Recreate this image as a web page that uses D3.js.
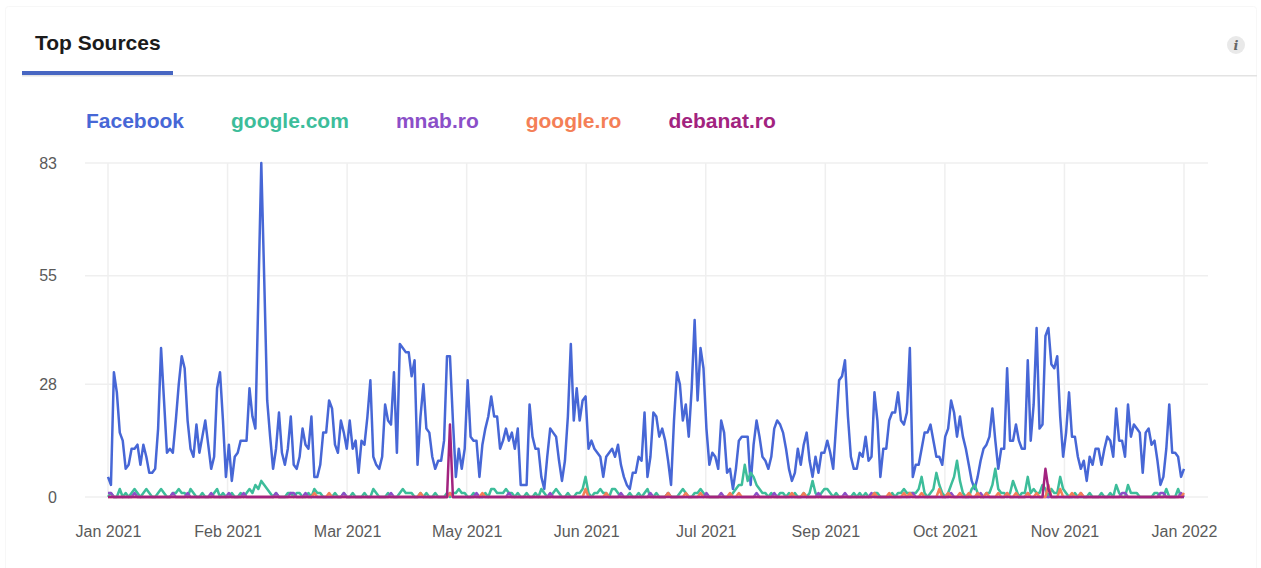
<!DOCTYPE html>
<html>
<head>
<meta charset="utf-8">
<script src="https://cdn.jsdelivr.net/npm/d3@7"></script>
<style>
  body { margin: 0; background: #fff; }
  svg { display: block; font-family: "Liberation Sans", Arial, sans-serif; }
</style>
</head>
<body>
<svg id="chart" width="1261" height="568"></svg>
<script>
const WIDTH = 1261;
const HEIGHT = 568;

// series, in drawing order
var seriesNames = ['Facebook', 'google.com', 'mnab.ro', 'google.ro', 'debanat.ro'];
var seriesColors = ['#4767d6', '#3dbd9a', '#8b4fc8', '#f47f57', '#a2237f'];

// daily values, Jan 1 2021 -> Jan 1 2022
var facebook = [
  5,3,31,26,16,14,7,8,12,12,13,8,13,10,6,6,7,17,37,24,11,12,11,19,28,35,32,19,12,10,18,11,15,19,13,7,10,27,31,19,5,13,4,10,11,
  14,14,14,27,20,17,50,83,54,24,15,7,12,21,11,8,12,20,8,7,10,17,13,12,20,5,5,8,16,16,24,22,13,11,19,16,12,19,12,14,6,14,13,20,29,10,
  8,7,10,23,19,18,31,11,38,37,36,36,30,34,8,20,28,17,16,10,7,9,9,14,35,35,19,5,12,7,12,29,15,14,14,5,13,17,20,25,20,20,12,14,17,14,
  16,12,17,3,3,3,23,15,12,12,5,2,10,17,16,15,9,4,9,20,38,19,27,19,24,25,12,14,12,11,10,5,10,11,12,10,13,8,5,3,2,6,6,10,9,21,
  5,10,21,20,15,17,14,9,3,19,31,28,19,23,15,27,44,24,37,32,17,8,11,10,7,19,16,6,7,2,7,14,15,15,15,3,13,19,15,10,9,7,10,17,19,18,
  16,12,7,4,6,12,8,13,16,9,5,10,6,11,11,14,11,7,18,29,30,34,20,10,7,7,11,10,15,9,10,26,19,5,12,12,19,21,21,26,19,18,21,37,5,
  8,8,12,16,16,18,14,10,10,8,15,17,24,21,15,20,15,12,8,4,2,5,9,12,13,15,22,14,7,12,12,32,14,14,18,14,12,12,34,14,23,42,17,18,40,42,
  33,32,35,20,10,16,26,15,15,10,7,9,4,10,8,12,12,8,12,15,14,10,22,14,14,10,23,15,18,17,16,6,16,17,13,14,9,3,5,12,23,11,11,10,5,7
];

var googleCom = [
  0,1,0,0,2,0,1,0,1,2,1,0,1,2,1,0,0,1,2,1,0,0,1,1,2,1,1,0,2,1,0,0,1,0,0,0,1,2,0,1,0,0,1,0,0,
  1,0,1,2,1,3,2,4,3,2,1,0,1,0,0,0,1,1,0,1,1,0,0,1,0,2,1,1,0,0,0,0,1,0,0,1,0,0,1,0,0,0,1,0,0,2,
  1,0,0,0,1,0,0,0,1,2,1,1,1,0,0,1,0,1,0,0,1,0,0,0,1,0,1,1,2,1,1,0,0,1,0,0,0,1,0,2,2,1,1,1,2,1,
  1,0,1,0,0,1,0,0,1,0,2,1,0,0,1,2,1,0,0,1,0,0,1,1,2,5,1,0,1,1,2,1,1,0,2,2,1,0,0,0,1,0,0,1,0,1,
  2,0,0,1,0,0,0,1,0,0,0,1,2,1,0,0,1,1,2,1,0,0,0,0,0,0,0,0,0,1,2,3,3,8,4,6,5,3,2,1,1,0,1,0,0,1,
  1,0,1,0,1,0,0,1,0,1,4,1,0,1,2,2,1,0,1,0,0,0,0,0,1,0,1,0,1,0,0,1,1,0,0,0,0,1,0,1,1,2,1,1,1,
  1,2,5,1,0,1,2,6,3,1,0,1,3,5,9,4,1,0,0,2,3,1,0,0,1,1,3,7,2,1,1,0,1,4,2,0,1,1,5,1,2,1,1,3,2,0,
  2,1,1,5,2,1,0,0,1,0,0,0,0,1,0,0,0,1,0,0,1,0,3,1,0,0,3,1,1,1,0,0,0,0,0,1,1,0,0,2,0,0,0,2,0,0
];

// near-zero series: [day index, value], every other day is 0
var mnabPoints = [[0,1],[1,1],[9,1],[22,1],[27,1],[35,1],[41,1],[46,1],[57,1],[62,1],[63,1],[67,1],[80,1],
  [96,1],[116,1],[125,1],[136,1],[150,1],[174,1],[184,1],[190,1],[203,1],[208,1],[220,1],[226,1],
  [241,1],[250,1],[259,1],[273,1],[286,1],[296,1],[305,1],[312,1],[330,1],[344,1],[345,1],[357,1],[358,1],[364,1]];
var googleRoPoints = [[70,1],[75,1],[106,1],[116,1],[127,1],[162,2],[169,1],[190,1],[196,1],[201,1],[211,1],[214,1],
  [232,1],[236,1],[260,1],[265,1],[270,1],[272,1],[276,1],[282,2],[285,1],[289,1],[292,1],[295,1],[298,1],
  [302,1],[305,1],[308,1],[312,1],[315,1],[319,3],[323,2],[327,1],[330,1],[365,1]];
var debanatPoints = [[116,18],[318,7],[319,2]];

var yTicks = [0, 28, 55, 83];
var xTickLabels = ['Jan 2021', 'Feb 2021', 'Mar 2021', 'May 2021', 'Jun 2021', 'Jul 2021',
                   'Sep 2021', 'Oct 2021', 'Nov 2021', 'Jan 2022'];

var startDate = new Date(Date.UTC(2021, 0, 1));
var endDate = new Date(Date.UTC(2022, 0, 1));

function fromPoints(points) {
  var m = new Map(points);
  return facebook.map(function(_, i) { return m.has(i) ? m.get(i) : 0; });
}

var seriesValues = [facebook, googleCom, fromPoints(mnabPoints), fromPoints(googleRoPoints), fromPoints(debanatPoints)];

var svg = d3.select('#chart');

// card frame (barely visible)
svg.append('rect')
  .attr('x', 5.5).attr('y', 6.5).attr('width', 1251).attr('height', 620).attr('rx', 3)
  .attr('fill', 'none').attr('stroke', '#f7f7f7');

// header
svg.append('text')
  .attr('x', 35).attr('y', 50)
  .attr('font-size', 21).attr('font-weight', 'bold').attr('fill', '#1b1b1b')
  .text('Top Sources');
svg.append('rect').attr('x', 22).attr('y', 75).attr('width', 1235).attr('height', 1.5).attr('fill', '#e3e3e3');
svg.append('rect').attr('x', 22).attr('y', 71).attr('width', 151).attr('height', 4).attr('fill', '#4766c2');

// info icon
svg.append('circle').attr('cx', 1236).attr('cy', 45).attr('r', 9).attr('fill', '#e9e9e9');
svg.append('text')
  .attr('x', 1236).attr('y', 50).attr('text-anchor', 'middle')
  .attr('font-size', 13).attr('font-style', 'italic').attr('font-weight', 'bold').attr('fill', '#666')
  .attr('font-family', '"DejaVu Serif", serif')
  .text('i');

// legend
var lx = 86;
seriesNames.forEach(function(name, i) {
  var t = svg.append('text')
    .attr('x', lx).attr('y', 128)
    .attr('font-size', 21).attr('font-weight', 'bold').attr('fill', seriesColors[i])
    .text(name);
  lx += t.node().getComputedTextLength() + 47;
});

// scales
var xScale = d3.scaleUtc().domain([startDate, endDate]).range([108, 1184]);
var yScale = d3.scaleLinear().domain([0, 83]).range([497, 163]);

var xTickDates = xTickLabels.map(function(_, i) {
  return new Date(+startDate + (endDate - startDate) * i / (xTickLabels.length - 1));
});

// grid
var grid = svg.append('g');
grid.selectAll('.hg').data(yTicks).enter().append('line')
  .attr('x1', 85).attr('x2', 1208)
  .attr('y1', function(d) { return yScale(d); }).attr('y2', function(d) { return yScale(d); })
  .attr('stroke', '#efefef').attr('stroke-width', 1.5);
grid.selectAll('.vg').data(xTickDates).enter().append('line')
  .attr('x1', function(d) { return xScale(d); }).attr('x2', function(d) { return xScale(d); })
  .attr('y1', 163).attr('y2', 497)
  .attr('stroke', '#efefef').attr('stroke-width', 1.5);

// axes
var xAxis = svg.append('g')
  .attr('transform', 'translate(0,497)')
  .call(d3.axisBottom(xScale).tickValues(xTickDates)
    .tickFormat(function(d, i) { return xTickLabels[i]; })
    .tickSize(0).tickPadding(29));
var yAxis = svg.append('g')
  .attr('transform', 'translate(108,0)')
  .call(d3.axisLeft(yScale).tickValues(yTicks).tickSize(0).tickPadding(51));
[xAxis, yAxis].forEach(function(a) {
  a.select('.domain').remove();
  a.selectAll('text')
    .attr('font-size', 16).attr('fill', '#5a5a5a')
    .attr('font-family', '"Liberation Sans", Arial, sans-serif');
});

// lines
var line = d3.line()
  .x(function(d, i) { return xScale(d3.utcDay.offset(startDate, i)); })
  .y(function(d) { return yScale(d); });

seriesValues.forEach(function(vals, i) {
  svg.append('path')
    .datum(vals)
    .attr('d', line)
    .attr('fill', 'none')
    .attr('stroke', seriesColors[i])
    .attr('stroke-width', 2.5)
    .attr('stroke-linejoin', 'round');
});
</script>
</body>
</html>
